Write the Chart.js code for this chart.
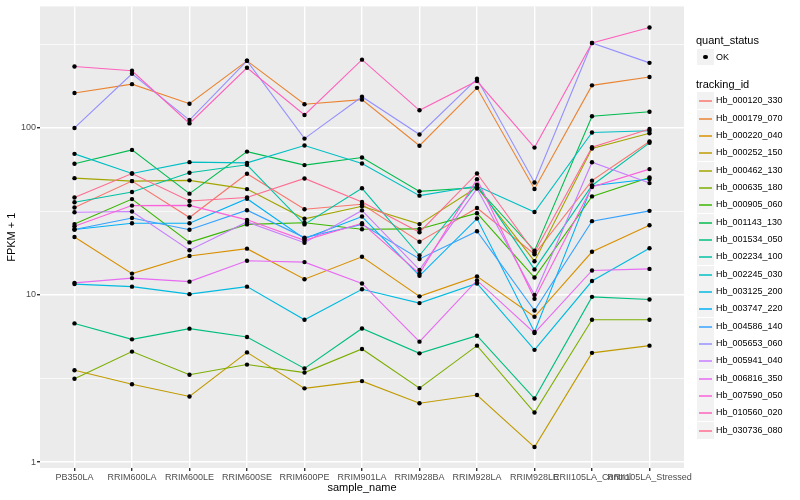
<!DOCTYPE html>
<html>
<head>
<meta charset="utf-8">
<script src="https://cdn.jsdelivr.net/npm/chart.js@4.4.0/dist/chart.umd.min.js"></script>
<style>
body { margin: 0; background: #fff; font-family: "Liberation Sans", Arial, sans-serif; }
#wrap { position: relative; width: 800px; height: 500px; }
#legend { position: absolute; left: 0; top: 0; }
.ttl { position: absolute; left: 696px; font-size: 11px; color: #000; line-height: 13px; }
.key { position: absolute; left: 697px; width: 17px; height: 17px; background: #f2f2f2; }
.lab { position: absolute; left: 716px; font-size: 9px; color: #000; line-height: 17px; }
</style>
</head>
<body>
<div id="wrap">
<canvas id="chart" width="800" height="500"></canvas>
<div id="legend"></div>
</div>
<script>
const samples = ['PB350LA', 'RRIM600LA', 'RRIM600LE', 'RRIM600SE', 'RRIM600PE', 'RRIM901LA',
    'RRIM928BA', 'RRIM928LA', 'RRIM928LE', 'RRII105LA_Control', 'RRII105LA_Stressed']

const trackingIds = ['Hb_000120_330', 'Hb_000179_070', 'Hb_000220_040', 'Hb_000252_150', 'Hb_000462_130',
    'Hb_000635_180', 'Hb_000905_060', 'Hb_001143_130', 'Hb_001534_050', 'Hb_002234_100',
    'Hb_002245_030', 'Hb_003125_200', 'Hb_003747_220', 'Hb_004586_140', 'Hb_005653_060',
    'Hb_005941_040', 'Hb_006816_350', 'Hb_007590_050', 'Hb_010560_020', 'Hb_030736_080']

// FPKM + 1, one array per tracking id, in sample order
const hb_000120_330 = [33.3, 47.9, 29.0, 53.0, 32.5, 34.8, 20.8, 33.1, 17.5, 48.2, 82.6]
const hb_000179_070 = [161, 182, 139, 251, 138, 147, 78, 173, 43, 179, 201]
const hb_000220_040 = [22.2, 13.4, 17.1, 18.9, 12.4, 16.9, 9.8, 12.9, 7.4, 18.1, 26.1]
const hb_000252_150 = [3.54, 2.92, 2.47, 4.53, 2.76, 3.05, 2.25, 2.52, 1.23, 4.5, 4.97]
const hb_000462_130 = [49.9, 47.9, 48.4, 42.9, 28.5, 33.9, 26.5, 44.0, 15.9, 75.0, 92.5]
const hb_000635_180 = [3.15, 4.58, 3.33, 3.83, 3.43, 4.75, 2.77, 4.97, 1.98, 7.1, 7.1]
const hb_000905_060 = [26.5, 37.4, 20.6, 26.4, 27.0, 24.7, 24.8, 30.8, 12.7, 38.8, 50.4]
const hb_001143_130 = [60.8, 73.6, 40.3, 71.9, 59.7, 66.3, 41.6, 43.9, 18.4, 117, 124.5]
const hb_001534_050 = [6.75, 5.42, 6.28, 5.6, 3.63, 6.3, 4.47, 5.7, 2.4, 9.73, 9.38]
const hb_002234_100 = [35.8, 41.2, 53.7, 60.0, 26.4, 43.4, 17.2, 45.6, 14.2, 45.1, 81.1]
const hb_002245_030 = [69.7, 53.2, 62.2, 61.6, 78.2, 61.1, 39.2, 44.8, 31.3, 93.5, 95.9]
const hb_003125_200 = [11.6, 11.2, 10.1, 11.2, 7.1, 10.8, 8.93, 11.7, 4.69, 12.1, 19.0]
const hb_003747_220 = [24.6, 26.8, 26.8, 37.6, 21.7, 29.4, 13.0, 28.6, 6.0, 45.0, 49.3]
const hb_004586_140 = [24.6, 28.8, 24.5, 32.1, 22.0, 26.4, 16.4, 24.0, 8.07, 27.6, 31.8]
const hb_005653_060 = [99.6, 210, 111, 251, 86, 153, 91, 196, 47, 321, 244]
const hb_005941_040 = [31.2, 31.5, 18.5, 27.3, 20.5, 32.0, 14.1, 43.2, 10.0, 62.1, 46.6]
const hb_006816_350 = [11.8, 12.6, 12.0, 16.0, 15.7, 11.7, 5.25, 12.2, 5.92, 14.0, 14.3]
const hb_007590_050 = [25.7, 34.2, 34.3, 28.1, 21.2, 26.8, 13.4, 49.2, 9.47, 44.2, 56.5]
const hb_010560_020 = [232, 219, 106, 228, 119, 255, 127, 190, 76, 321, 397]
const hb_030736_080 = [38.2, 53.2, 36.4, 38.2, 49.7, 35.9, 23.7, 53.2, 17.9, 76.4, 98.2]

const yBreaks = [1, 10, 100]
const yLabels = ['1', '10', '100']

const series = [hb_000120_330, hb_000179_070, hb_000220_040, hb_000252_150, hb_000462_130,
    hb_000635_180, hb_000905_060, hb_001143_130, hb_001534_050, hb_002234_100,
    hb_002245_030, hb_003125_200, hb_003747_220, hb_004586_140, hb_005653_060,
    hb_005941_040, hb_006816_350, hb_007590_050, hb_010560_020, hb_030736_080]

// ggplot hue palette for 20 groups
const colors = ['#F8766D', '#EA8331', '#D89000', '#C09B00', '#A3A500', '#7CAE00', '#39B600', '#00BB4E',
    '#00BF7D', '#00C1A3', '#00BFC4', '#00BAE0', '#00B0F6', '#35A2FF', '#9590FF', '#C77CFF',
    '#E76BF3', '#FA62DB', '#FF62BC', '#FF6C91']

let datasets = []
for (let i = 0; i < series.length; i++) {
    datasets.push({
        label: trackingIds[i],
        data: series[i].map((v, j) => ({ x: j, y: v })),
        borderColor: colors[i],
        borderWidth: 1.1,
        pointRadius: 0,
        fill: false,
        tension: 0,
        order: series.length - i
    })
}
let dots = []
for (let s of series) {
    for (let j = 0; j < s.length; j++) dots.push({ x: j, y: s[j] })
}
datasets.push({
    label: 'OK',
    data: dots,
    showLine: false,
    pointRadius: 2.2,
    pointBackgroundColor: '#000',
    pointBorderWidth: 0,
    order: 0
})

const panelBg = {
    id: 'panelBg',
    beforeDraw(chart) {
        const a = chart.chartArea
        const ctx = chart.ctx
        ctx.save()
        ctx.fillStyle = '#EBEBEB'
        ctx.fillRect(a.left, a.top, a.right - a.left, a.bottom - a.top)
        ctx.restore()
    }
}

const isMajor = v => yBreaks.some(b => Math.abs(b - v) < 1e-9)

new Chart(document.getElementById('chart').getContext('2d'), {
    type: 'line',
    data: { datasets },
    plugins: [panelBg],
    options: {
        responsive: false,
        animation: false,
        devicePixelRatio: 1,
        layout: { padding: { top: 5, right: 116, left: 0, bottom: 0 } },
        plugins: { legend: { display: false }, tooltip: { enabled: false } },
        scales: {
            x: {
                type: 'linear',
                min: -0.6,
                max: samples.length - 1 + 0.6,
                afterBuildTicks: scale => { scale.ticks = samples.map((s, i) => ({ value: i })) },
                afterFit: scale => { scale.height = 32 },
                border: { display: false },
                grid: { color: '#FFFFFF', lineWidth: 1.4, tickColor: '#333333', tickLength: 3 },
                ticks: {
                    autoSkip: false, maxRotation: 0, padding: 1,
                    color: '#4D4D4D',
                    font: { family: 'Liberation Sans', size: 9 },
                    callback: v => samples[v]
                },
                title: {
                    display: true, text: 'sample_name', color: '#000',
                    font: { family: 'Liberation Sans', size: 11 },
                    padding: { top: 0, bottom: 5 }
                }
            },
            y: {
                type: 'logarithmic',
                min: 0.922,
                max: 531,
                afterBuildTicks: scale => {
                    let t = []
                    for (let b of yBreaks) { t.push({ value: b }); t.push({ value: b * Math.sqrt(10) }) }
                    scale.ticks = t
                },
                afterFit: scale => { scale.width = 40 },
                border: { display: false },
                grid: {
                    color: '#FFFFFF',
                    lineWidth: ctx => isMajor(ctx.tick.value) ? 1.4 : 0.7,
                    tickColor: ctx => isMajor(ctx.tick.value) ? '#333333' : 'rgba(0,0,0,0)',
                    tickLength: 3
                },
                ticks: {
                    padding: 1,
                    color: '#4D4D4D',
                    font: { family: 'Liberation Sans', size: 9 },
                    callback: v => {
                        let k = yBreaks.findIndex(b => Math.abs(b - v) < 1e-9)
                        return k >= 0 ? yLabels[k] : ''
                    }
                },
                title: {
                    display: true, text: 'FPKM + 1', color: '#000',
                    font: { family: 'Liberation Sans', size: 11 },
                    padding: { top: 5, bottom: 0 }
                }
            }
        }
    }
})

// legend
const legend = document.getElementById('legend')
function add(cls, css, text) {
    let d = document.createElement('div')
    d.className = cls
    d.style.cssText = css
    if (text) d.textContent = text
    legend.appendChild(d)
    return d
}
add('ttl', 'top:34px', 'quant_status')
let k = add('key', 'top:49px;height:16px')
let dot = document.createElement('div')
dot.style.cssText = 'position:absolute;left:6.3px;top:5.8px;width:4.4px;height:4.4px;border-radius:50%;background:#000'
k.appendChild(dot)
add('lab', 'top:48.5px', 'OK')
add('ttl', 'top:78px', 'tracking_id')
for (let i = 0; i < trackingIds.length; i++) {
    let top = Math.round(92.4 + 17.33 * i)
    let box = add('key', 'top:' + top + 'px')
    let ln = document.createElement('div')
    ln.style.cssText = 'position:absolute;left:2px;width:13px;top:8px;height:2px;opacity:0.75;background:' + colors[i]
    box.appendChild(ln)
    add('lab', 'top:' + top + 'px', trackingIds[i])
}
</script>
</body>
</html>
